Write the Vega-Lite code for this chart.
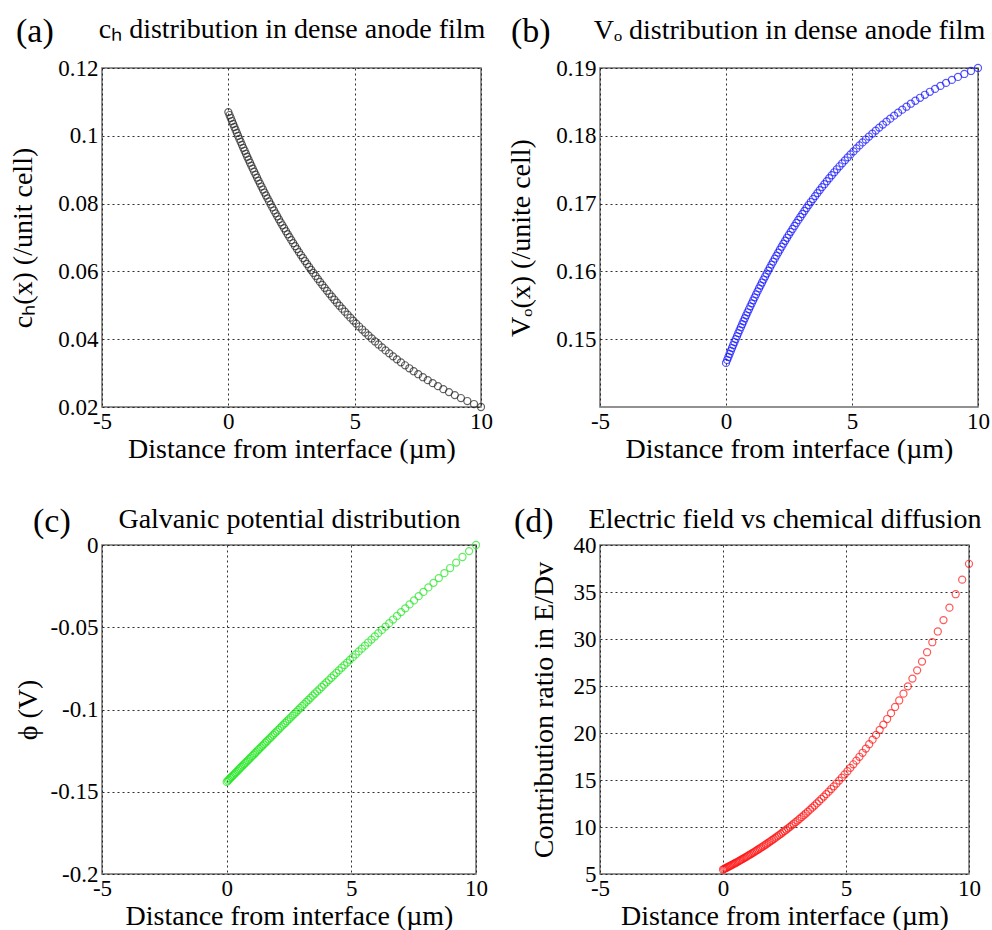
{
  "$schema": "https://vega.github.io/schema/vega-lite/v6.json",
  "autosize": "none",
  "padding": {"left": 102, "top": 68, "right": 890, "bottom": 862},
  "background": "white",
  "config": {
    "font": "Liberation Serif",
    "view": {"stroke": "#6e6e6e", "strokeWidth": 1.5},
    "axis": {
      "domain": false, "ticks": false, "grid": true,
      "gridColor": "#1a1a1a", "gridDash": [2, 3], "gridWidth": 1, "gridOpacity": 0.9,
      "labelFont": "Liberation Serif", "labelFontSize": 23, "labelColor": "#000000",
      "labelOverlap": false, "labelFlush": false,
      "titleFont": "Liberation Serif", "titleFontSize": 28, "titleFontWeight": "normal", "titleColor": "#000000"
    },
    "axisX": {"labelPadding": 3, "titlePadding": 2},
    "axisY": {"labelPadding": 4},
    "title": {"font": "Liberation Serif", "fontWeight": "normal", "color": "#000000", "fontSize": 34, "anchor": "start", "frame": "group", "baseline": "alphabetic", "offset": 0}
  },
  "data": {"values": [
    {"x": 0, "ch": 0.107, "vo": 0.1465, "phi": -0.144, "r": 5.477},
    {"x": 0.047, "ch": 0.10612, "vo": 0.14694, "phi": -0.1433, "r": 5.539},
    {"x": 0.094, "ch": 0.10524, "vo": 0.14738, "phi": -0.1426, "r": 5.602},
    {"x": 0.142, "ch": 0.10436, "vo": 0.14782, "phi": -0.1418, "r": 5.666},
    {"x": 0.19, "ch": 0.10348, "vo": 0.14826, "phi": -0.1411, "r": 5.731},
    {"x": 0.238, "ch": 0.10261, "vo": 0.1487, "phi": -0.1403, "r": 5.797},
    {"x": 0.287, "ch": 0.10173, "vo": 0.14914, "phi": -0.1396, "r": 5.864},
    {"x": 0.337, "ch": 0.10085, "vo": 0.14958, "phi": -0.1388, "r": 5.933},
    {"x": 0.386, "ch": 0.09997, "vo": 0.15002, "phi": -0.1381, "r": 6.002},
    {"x": 0.437, "ch": 0.09909, "vo": 0.15045, "phi": -0.1373, "r": 6.074},
    {"x": 0.487, "ch": 0.09821, "vo": 0.15089, "phi": -0.1365, "r": 6.146},
    {"x": 0.539, "ch": 0.09733, "vo": 0.15133, "phi": -0.1357, "r": 6.219},
    {"x": 0.59, "ch": 0.09645, "vo": 0.15177, "phi": -0.1349, "r": 6.294},
    {"x": 0.643, "ch": 0.09558, "vo": 0.15221, "phi": -0.1341, "r": 6.37},
    {"x": 0.695, "ch": 0.0947, "vo": 0.15265, "phi": -0.1333, "r": 6.448},
    {"x": 0.748, "ch": 0.09382, "vo": 0.15309, "phi": -0.1325, "r": 6.527},
    {"x": 0.802, "ch": 0.09294, "vo": 0.15353, "phi": -0.1317, "r": 6.608},
    {"x": 0.856, "ch": 0.09206, "vo": 0.15397, "phi": -0.1309, "r": 6.69},
    {"x": 0.911, "ch": 0.09118, "vo": 0.15441, "phi": -0.13, "r": 6.774},
    {"x": 0.966, "ch": 0.0903, "vo": 0.15485, "phi": -0.1292, "r": 6.859},
    {"x": 1.022, "ch": 0.08942, "vo": 0.15529, "phi": -0.1283, "r": 6.947},
    {"x": 1.079, "ch": 0.08855, "vo": 0.15573, "phi": -0.1275, "r": 7.034},
    {"x": 1.136, "ch": 0.08767, "vo": 0.15617, "phi": -0.1266, "r": 7.125},
    {"x": 1.193, "ch": 0.08679, "vo": 0.15661, "phi": -0.1257, "r": 7.218},
    {"x": 1.252, "ch": 0.08591, "vo": 0.15705, "phi": -0.1248, "r": 7.312},
    {"x": 1.31, "ch": 0.08503, "vo": 0.15749, "phi": -0.1239, "r": 7.408},
    {"x": 1.37, "ch": 0.08415, "vo": 0.15792, "phi": -0.123, "r": 7.507},
    {"x": 1.43, "ch": 0.08327, "vo": 0.15836, "phi": -0.1221, "r": 7.607},
    {"x": 1.491, "ch": 0.08239, "vo": 0.1588, "phi": -0.1212, "r": 7.71},
    {"x": 1.552, "ch": 0.08152, "vo": 0.15924, "phi": -0.1202, "r": 7.814},
    {"x": 1.614, "ch": 0.08064, "vo": 0.15968, "phi": -0.1193, "r": 7.921},
    {"x": 1.677, "ch": 0.07976, "vo": 0.16012, "phi": -0.1183, "r": 8.03},
    {"x": 1.741, "ch": 0.07888, "vo": 0.16056, "phi": -0.1174, "r": 8.142},
    {"x": 1.805, "ch": 0.078, "vo": 0.161, "phi": -0.1164, "r": 8.256},
    {"x": 1.87, "ch": 0.07712, "vo": 0.16144, "phi": -0.1154, "r": 8.373},
    {"x": 1.936, "ch": 0.07624, "vo": 0.16188, "phi": -0.1144, "r": 8.493},
    {"x": 2.003, "ch": 0.07536, "vo": 0.16232, "phi": -0.1134, "r": 8.616},
    {"x": 2.07, "ch": 0.07448, "vo": 0.16276, "phi": -0.1124, "r": 8.741},
    {"x": 2.138, "ch": 0.07361, "vo": 0.1632, "phi": -0.1113, "r": 8.868},
    {"x": 2.208, "ch": 0.07273, "vo": 0.16364, "phi": -0.1103, "r": 9.0},
    {"x": 2.278, "ch": 0.07185, "vo": 0.16408, "phi": -0.1092, "r": 9.134},
    {"x": 2.349, "ch": 0.07097, "vo": 0.16452, "phi": -0.1082, "r": 9.272},
    {"x": 2.42, "ch": 0.07009, "vo": 0.16496, "phi": -0.1071, "r": 9.414},
    {"x": 2.493, "ch": 0.06921, "vo": 0.16539, "phi": -0.106, "r": 9.559},
    {"x": 2.567, "ch": 0.06833, "vo": 0.16583, "phi": -0.1049, "r": 9.708},
    {"x": 2.642, "ch": 0.06745, "vo": 0.16627, "phi": -0.1037, "r": 9.861},
    {"x": 2.718, "ch": 0.06658, "vo": 0.16671, "phi": -0.1026, "r": 10.016},
    {"x": 2.794, "ch": 0.0657, "vo": 0.16715, "phi": -0.1015, "r": 10.177},
    {"x": 2.872, "ch": 0.06482, "vo": 0.16759, "phi": -0.1003, "r": 10.342},
    {"x": 2.951, "ch": 0.06394, "vo": 0.16803, "phi": -0.0991, "r": 10.512},
    {"x": 3.032, "ch": 0.06306, "vo": 0.16847, "phi": -0.0979, "r": 10.686},
    {"x": 3.113, "ch": 0.06218, "vo": 0.16891, "phi": -0.0967, "r": 10.866},
    {"x": 3.196, "ch": 0.0613, "vo": 0.16935, "phi": -0.0954, "r": 11.051},
    {"x": 3.28, "ch": 0.06042, "vo": 0.16979, "phi": -0.0942, "r": 11.241},
    {"x": 3.365, "ch": 0.05955, "vo": 0.17023, "phi": -0.0929, "r": 11.434},
    {"x": 3.451, "ch": 0.05867, "vo": 0.17067, "phi": -0.0916, "r": 11.636},
    {"x": 3.539, "ch": 0.05779, "vo": 0.17111, "phi": -0.0903, "r": 11.843},
    {"x": 3.628, "ch": 0.05691, "vo": 0.17155, "phi": -0.089, "r": 12.057},
    {"x": 3.719, "ch": 0.05603, "vo": 0.17199, "phi": -0.0877, "r": 12.278},
    {"x": 3.811, "ch": 0.05515, "vo": 0.17243, "phi": -0.0863, "r": 12.506},
    {"x": 3.905, "ch": 0.05427, "vo": 0.17286, "phi": -0.0849, "r": 12.741},
    {"x": 4.001, "ch": 0.05339, "vo": 0.1733, "phi": -0.0835, "r": 12.984},
    {"x": 4.098, "ch": 0.05252, "vo": 0.17374, "phi": -0.0821, "r": 13.232},
    {"x": 4.197, "ch": 0.05164, "vo": 0.17418, "phi": -0.0807, "r": 13.492},
    {"x": 4.297, "ch": 0.05076, "vo": 0.17462, "phi": -0.0792, "r": 13.76},
    {"x": 4.4, "ch": 0.04988, "vo": 0.17506, "phi": -0.0777, "r": 14.038},
    {"x": 4.504, "ch": 0.049, "vo": 0.1755, "phi": -0.0762, "r": 14.327},
    {"x": 4.611, "ch": 0.04812, "vo": 0.17594, "phi": -0.0746, "r": 14.625},
    {"x": 4.72, "ch": 0.04724, "vo": 0.17638, "phi": -0.073, "r": 14.935},
    {"x": 4.83, "ch": 0.04636, "vo": 0.17682, "phi": -0.0715, "r": 15.256},
    {"x": 4.943, "ch": 0.04548, "vo": 0.17726, "phi": -0.0698, "r": 15.59},
    {"x": 5.059, "ch": 0.04461, "vo": 0.1777, "phi": -0.0682, "r": 15.933},
    {"x": 5.177, "ch": 0.04373, "vo": 0.17814, "phi": -0.0665, "r": 16.294},
    {"x": 5.297, "ch": 0.04285, "vo": 0.17858, "phi": -0.0647, "r": 16.67},
    {"x": 5.42, "ch": 0.04197, "vo": 0.17902, "phi": -0.063, "r": 17.061},
    {"x": 5.546, "ch": 0.04109, "vo": 0.17945, "phi": -0.0612, "r": 17.47},
    {"x": 5.675, "ch": 0.04021, "vo": 0.17989, "phi": -0.0593, "r": 17.896},
    {"x": 5.807, "ch": 0.03933, "vo": 0.18033, "phi": -0.0575, "r": 18.341},
    {"x": 5.942, "ch": 0.03845, "vo": 0.18077, "phi": -0.0556, "r": 18.806},
    {"x": 6.081, "ch": 0.03758, "vo": 0.18121, "phi": -0.0536, "r": 19.288},
    {"x": 6.223, "ch": 0.0367, "vo": 0.18165, "phi": -0.0516, "r": 19.798},
    {"x": 6.369, "ch": 0.03582, "vo": 0.18209, "phi": -0.0496, "r": 20.334},
    {"x": 6.519, "ch": 0.03494, "vo": 0.18253, "phi": -0.0475, "r": 20.896},
    {"x": 6.673, "ch": 0.03406, "vo": 0.18297, "phi": -0.0453, "r": 21.488},
    {"x": 6.831, "ch": 0.03318, "vo": 0.18341, "phi": -0.0431, "r": 22.111},
    {"x": 6.995, "ch": 0.0323, "vo": 0.18385, "phi": -0.0408, "r": 22.768},
    {"x": 7.163, "ch": 0.03142, "vo": 0.18429, "phi": -0.0385, "r": 23.462},
    {"x": 7.336, "ch": 0.03055, "vo": 0.18473, "phi": -0.0361, "r": 24.187},
    {"x": 7.515, "ch": 0.02967, "vo": 0.18517, "phi": -0.0337, "r": 24.963},
    {"x": 7.7, "ch": 0.02879, "vo": 0.18561, "phi": -0.0311, "r": 25.787},
    {"x": 7.892, "ch": 0.02791, "vo": 0.18605, "phi": -0.0285, "r": 26.664},
    {"x": 8.09, "ch": 0.02703, "vo": 0.18649, "phi": -0.0258, "r": 27.597},
    {"x": 8.296, "ch": 0.02615, "vo": 0.18692, "phi": -0.023, "r": 28.593},
    {"x": 8.509, "ch": 0.02527, "vo": 0.18736, "phi": -0.0201, "r": 29.658},
    {"x": 8.732, "ch": 0.02439, "vo": 0.1878, "phi": -0.0171, "r": 30.8},
    {"x": 8.963, "ch": 0.02352, "vo": 0.18824, "phi": -0.014, "r": 32.014},
    {"x": 9.205, "ch": 0.02264, "vo": 0.18868, "phi": -0.0107, "r": 33.336},
    {"x": 9.458, "ch": 0.02176, "vo": 0.18912, "phi": -0.0073, "r": 34.765},
    {"x": 9.723, "ch": 0.02088, "vo": 0.18956, "phi": -0.0037, "r": 36.314},
    {"x": 10, "ch": 0.02, "vo": 0.19, "phi": 0, "r": 38.0}
  ]},
  "columns": 2,
  "align": {"row": "all", "column": "none"},
  "bounds": "flush",
  "spacing": {"row": 138, "column": 119},
  "concat": [
    {
      "width": 379, "height": 339,
      "title": {"text": "(a)", "dx": -86, "dy": 38},
      "layer": [
        {
          "mark": {"type": "point", "shape": "circle", "filled": false, "size": 50, "strokeWidth": 1.2, "color": "#222222"},
          "encoding": {
            "x": {"field": "x", "type": "quantitative", "scale": {"domain": [-5, 10], "nice": false, "zero": false},
                  "axis": {"values": [-5, 0, 5, 10], "labelExpr": "'' + datum.value", "title": "Distance from interface (µm)"}},
            "y": {"field": "ch", "type": "quantitative", "scale": {"domain": [0.02, 0.12], "nice": false, "zero": false},
                  "axis": {"values": [0.02, 0.04, 0.06, 0.08, 0.1, 0.12], "labelExpr": "'' + datum.value", "title": "cₕ(x) (/unit cell)", "titlePadding": 20}}
          }
        },
        {
          "mark": {"type": "point", "opacity": 0},
          "encoding": {
            "x": {"field": "x", "type": "quantitative",
                  "axis": {"orient": "top", "title": "cₕ distribution in dense anode film", "labels": false, "ticks": false, "domain": false, "grid": false, "titlePadding": 31, "titleBaseline": "alphabetic"}}
          }
        }
      ],
      "resolve": {"axis": {"x": "independent"}}
    },
    {
      "width": 378, "height": 339,
      "title": {"text": "(b)", "dx": -89, "dy": 37},
      "layer": [
        {
          "mark": {"type": "point", "shape": "circle", "filled": false, "size": 50, "strokeWidth": 1.2, "color": "#1010ff"},
          "encoding": {
            "x": {"field": "x", "type": "quantitative", "scale": {"domain": [-5, 10], "nice": false, "zero": false},
                  "axis": {"values": [-5, 0, 5, 10], "labelExpr": "'' + datum.value", "title": "Distance from interface (µm)"}},
            "y": {"field": "vo", "type": "quantitative", "scale": {"domain": [0.14, 0.19], "nice": false, "zero": false},
                  "axis": {"values": [0.15, 0.16, 0.17, 0.18, 0.19], "labelExpr": "'' + datum.value", "title": "Vₒ(x) (/unite cell)", "titlePadding": 20}}
          }
        },
        {
          "mark": {"type": "point", "opacity": 0},
          "encoding": {
            "x": {"field": "x", "type": "quantitative",
                  "axis": {"orient": "top", "title": "Vₒ distribution in dense anode film", "labels": false, "ticks": false, "domain": false, "grid": false, "titlePadding": 30, "titleBaseline": "alphabetic"}}
          }
        }
      ],
      "resolve": {"axis": {"x": "independent"}}
    },
    {
      "width": 374, "height": 329,
      "title": {"text": "(c)", "dx": -69, "dy": 38},
      "layer": [
        {
          "mark": {"type": "point", "shape": "circle", "filled": false, "size": 50, "strokeWidth": 1.2, "color": "#1ee61e"},
          "encoding": {
            "x": {"field": "x", "type": "quantitative", "scale": {"domain": [-5, 10], "nice": false, "zero": false},
                  "axis": {"values": [-5, 0, 5, 10], "labelExpr": "'' + datum.value", "title": "Distance from interface (µm)"}},
            "y": {"field": "phi", "type": "quantitative", "scale": {"domain": [-0.2, 0], "nice": false, "zero": false},
                  "axis": {"values": [-0.2, -0.15, -0.1, -0.05, 0], "labelExpr": "'' + datum.value", "title": "ϕ (V)", "titlePadding": 8}}
          }
        },
        {
          "mark": {"type": "point", "opacity": 0},
          "encoding": {
            "x": {"field": "x", "type": "quantitative",
                  "axis": {"orient": "top", "title": "Galvanic potential distribution", "labels": false, "ticks": false, "domain": false, "grid": false, "titlePadding": 18, "titleBaseline": "alphabetic"}}
          }
        }
      ],
      "resolve": {"axis": {"x": "independent"}}
    },
    {
      "width": 369, "height": 329,
      "title": {"text": "(d)", "dx": -86, "dy": 38},
      "layer": [
        {
          "mark": {"type": "point", "shape": "circle", "filled": false, "size": 50, "strokeWidth": 1.2, "color": "#ff1010"},
          "encoding": {
            "x": {"field": "x", "type": "quantitative", "scale": {"domain": [-5, 10], "nice": false, "zero": false},
                  "axis": {"values": [-5, 0, 5, 10], "labelExpr": "'' + datum.value", "title": "Distance from interface (µm)"}},
            "y": {"field": "r", "type": "quantitative", "scale": {"domain": [5, 40], "nice": false, "zero": false},
                  "axis": {"values": [5, 10, 15, 20, 25, 30, 35, 40], "labelExpr": "'' + datum.value", "title": "Contribution ratio in E/Dv", "titlePadding": 15}}
          }
        },
        {
          "mark": {"type": "point", "opacity": 0},
          "encoding": {
            "x": {"field": "x", "type": "quantitative",
                  "axis": {"orient": "top", "title": "Electric field vs chemical diffusion", "labels": false, "ticks": false, "domain": false, "grid": false, "titlePadding": 18, "titleBaseline": "alphabetic"}}
          }
        }
      ],
      "resolve": {"axis": {"x": "independent"}}
    }
  ]
}
